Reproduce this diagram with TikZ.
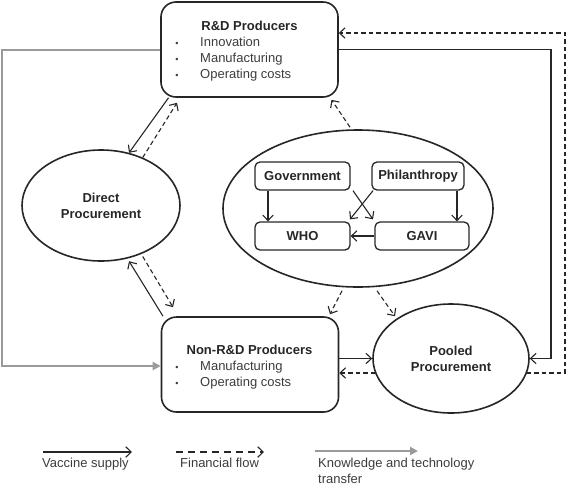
\documentclass[tikz,border=0pt]{standalone}
\usepackage{fontspec}
\setmainfont{Liberation Sans}
\usetikzlibrary{arrows.meta,shapes.geometric}
\definecolor{ln}{HTML}{262626}
\definecolor{ktc}{HTML}{9A9A9A}
\definecolor{tx}{HTML}{3C3C3C}
\begin{document}
\begin{tikzpicture}[x=1pt,y=-1pt,
  font=\fontsize{13}{16}\selectfont,
  bigbox/.style={draw=ln, line width=1.6pt, rounded corners=15pt, minimum width=177pt, minimum height=95pt, inner sep=0pt},
  smallbox/.style={draw=ln, line width=1.3pt, rounded corners=5pt, minimum height=28pt, inner sep=0pt, font=\fontsize{13}{16}\selectfont\bfseries, text=ln},
  proc/.style={ellipse, draw=ln, line width=1.6pt, inner sep=0pt, align=center, font=\fontsize{13}{16}\selectfont\bfseries, text=ln},
  lbl/.style={anchor=base west, inner sep=0pt, text=tx},
  ttl/.style={anchor=base, inner sep=0pt, text=ln, font=\fontsize{13}{16}\selectfont\bfseries},
  bul/.style={anchor=base, inner sep=0pt, text=tx, font=\fontsize{9}{16}\selectfont},
  sup/.style={draw=ln, line width=1.1pt, -{Straight Barb[length=5.5pt,width=10.5pt]}},
  fin/.style={sup, dash pattern=on 4.5pt off 3pt},
  ktr/.style={draw=ktc, line width=2pt, -{Triangle[length=8pt,width=8pt]}}
]
\useasboundingbox (0,0) rectangle (567,485);

% main boxes
\node[bigbox] (rd) at (249.5,49.5) {};
\node[bigbox] (nrd) at (250,364.5) {};
\node[proc, minimum width=158pt, minimum height=111pt] (direct) at (101,205.5) {Direct\\Procurement};
\node[proc, minimum width=270pt, minimum height=157pt] (big) at (358,208.5) {};
\node[proc, minimum width=156pt, minimum height=109pt] (pooled) at (451,358.5) {Pooled\\Procurement};

% R&D text
\node[ttl] (rdt) at (249.5,30) {R\&D Producers};
\node[bul] (rdb1) at (177,46) {•};
\node[lbl] (rdi1) at (200,46) {Innovation};
\node[bul] (rdb2) at (177,62) {•};
\node[lbl] (rdi2) at (200,62) {Manufacturing};
\node[bul] (rdb3) at (177,78) {•};
\node[lbl] (rdi3) at (200,78) {Operating costs};

% Non-R&D text
\node[ttl] (nrdt) at (249.5,354.5) {Non-R\&D Producers};
\node[bul] (nrdb1) at (177,370.5) {•};
\node[lbl] (nrdi1) at (200,370.5) {Manufacturing};
\node[bul] (nrdb2) at (177,386.5) {•};
\node[lbl] (nrdi2) at (200,386.5) {Operating costs};

% inner boxes
\node[smallbox, minimum width=95pt] (gov) at (302.5,176) {Government};
\node[smallbox, minimum width=92pt] (phil) at (418,176) {Philanthropy};
\node[smallbox, minimum width=95pt] (who) at (302.5,236) {WHO};
\node[smallbox, minimum width=94pt] (gavi) at (422,236) {GAVI};

\draw[sup] ([xshift=-34.5pt]gov.south) -- ([xshift=-34.5pt]who.north);
\draw[sup] ([xshift=39pt]phil.south) -- ([xshift=35pt]gavi.north);
\draw[sup] (gavi.west) -- (who.east);
\draw[sup] ([xshift=50.5pt]gov.south) -- ([xshift=-49pt,yshift=2pt]gavi.north);
\draw[sup] ([xshift=-45pt]phil.south) -- ([xshift=47.5pt,yshift=2pt]who.north);

% knowledge transfer
\coordinate (kx) at (2,200);
\draw[ktr] (rd.west) -| (kx) |- ([yshift=-1.5pt]nrd.west);

% vaccine supply loop to pooled
\coordinate (vx) at (551,200);
\draw[sup] (rd.east) -| (vx) |- (pooled.east);

% financial flow pooled -> R&D
\coordinate (fx) at (565,200);
\draw[fin] ([xshift=-3pt,yshift=-14.5pt]pooled.east) -| (fx) |- ([yshift=16.5pt]rd.east);

% non-R&D <-> pooled
\draw[sup] ([yshift=6pt]nrd.east) -- (pooled.west);
\draw[fin] ([xshift=3pt,yshift=-14.5pt]pooled.west) -- ([yshift=-8.5pt]nrd.east);

% R&D <-> direct
\draw[sup] ([xshift=-81pt]rd.south) -- (direct.62);
\draw[fin] (direct.49) -- ([xshift=-72.5pt,yshift=-5pt]rd.south);

% direct <-> non-R&D
\draw[sup] ([xshift=-87pt]nrd.north) -- ([yshift=-3pt]direct.-62);
\draw[fin] ([yshift=-3pt]direct.-49) -- ([xshift=-77pt,yshift=9pt]nrd.north);

% big ellipse flows
\draw[fin] ([xshift=-8pt,yshift=2pt]big.north) -- ([xshift=82pt,yshift=-2pt]rd.south);
\draw[fin] ([xshift=-16pt,yshift=-3pt]big.south) -- ([xshift=80pt,yshift=2pt]nrd.north);
\draw[fin] ([xshift=19pt,yshift=-3pt]big.south) -- ([xshift=-56pt,yshift=-13pt]pooled.north);

% legend
\coordinate (va) at (43,452);
\coordinate (vb) at (132,452);
\draw[sup] (va) -- (vb);
\node[lbl] (vt) at (42,467) {Vaccine supply};
\coordinate (fa) at (176,452);
\coordinate (fb) at (264,452);
\draw[sup, dash pattern=on 7pt off 5pt] (fa) -- (fb);
\node[lbl] (ft) at (180,467) {Financial flow};
\coordinate (ka) at (315,451);
\coordinate (kb) at (418,451);
\draw[ktr] (ka) -- (kb);
\node[lbl] (kt1) at (318,467) {Knowledge and technology};
\node[lbl] (kt2) at (318,483) {transfer};
\end{tikzpicture}
\end{document}
